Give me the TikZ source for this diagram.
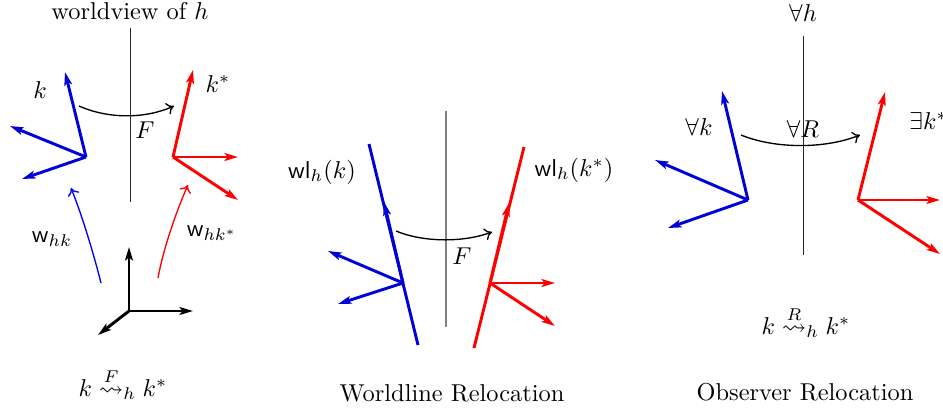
\documentclass[tikz,border=0pt]{standalone}
\usepackage{amsmath,amssymb}
\usetikzlibrary{arrows.meta}
\begin{document}
\begin{tikzpicture}[x=0.41pt,y=-0.41pt,>=to,
  frame/.style={line width=1.2pt,-{Stealth[length=5.5pt,width=3.2pt,inset=1.2pt]}},
  axisline/.style={line width=0.4pt,black!85},
  relarrow/.style={line width=0.55pt,-{To[length=3pt,width=5pt]}},
  lab/.style={inner sep=0pt}]
\useasboundingbox (0,0) rectangle (943,412);
% ---------- Panel 1 ----------
\node[lab] (t1) at (130,11) {worldview of $h$};
\coordinate (v1a) at (130,28);
\coordinate (v1b) at (130,202);
\draw[axisline] (v1a) -- (v1b);
\coordinate (bo1) at (86,157);
\coordinate (bu1) at (65,72);
\coordinate (bl1) at (10,126);
\coordinate (bd1) at (22,179);
\draw[frame,blue!85!black] (bo1) -- (bu1);
\draw[frame,blue!85!black] (bo1) -- (bl1);
\draw[frame,blue!85!black] (bo1) -- (bd1);
\node[lab] (k1) at (40,90) {$k$};
\coordinate (ro1) at (173,157);
\coordinate (ru1) at (193,70);
\coordinate (rr1) at (238,157);
\coordinate (rd1) at (238,200);
\draw[frame,red] (ro1) -- (ru1);
\draw[frame,red] (ro1) -- (rr1);
\draw[frame,red] (ro1) -- (rd1);
\node[lab] (ks1) at (218,84) {$k^*$};
\coordinate (fa1) at (79,106);
\coordinate (fb1) at (174,106);
\draw[relarrow] (fa1) .. controls (108,119) and (145,119) .. (fb1);
\node[lab] (F1) at (145,130) {$F$};
\coordinate (wa1) at (101,283);
\coordinate (wb1) at (71,188);
\draw[relarrow,blue] (wa1) .. controls (94,255) and (82,215) .. (wb1);
\node[lab] (wl1) at (52,239) {$\mathsf{w}_{hk}$};
\coordinate (wa2) at (158,278);
\coordinate (wb2) at (188,185);
\draw[relarrow,red] (wa2) .. controls (163,250) and (176,212) .. (wb2);
\node[lab] (wl2) at (212,233) {$\mathsf{w}_{hk^*}$};
\coordinate (ho1) at (129,311);
\coordinate (hu1) at (129,247);
\coordinate (hr1) at (193,311);
\coordinate (hd1) at (98,335);
\draw[frame,black] (ho1) -- (hu1);
\draw[frame,black] (ho1) -- (hr1);
\draw[frame,black] (ho1) -- (hd1);
\node[lab] (eq1) at (123,384) {$k \overset{F}{\rightsquigarrow}_h k^*$};
% ---------- Panel 2 ----------
\coordinate (v2a) at (446,111);
\coordinate (v2b) at (446,327);
\draw[line width=0.5pt,gray] (v2a) -- (v2b);
\coordinate (bo2) at (403,283);
\coordinate (btop2) at (369,144);
\coordinate (bmid2) at (384,202);
\coordinate (bbot2) at (418,345);
\coordinate (bl2) at (328,251);
\coordinate (bd2) at (338,304);
\draw[line width=1.2pt,blue!85!black] (btop2) -- (bbot2);
\draw[frame,blue!85!black] (bo2) -- (bmid2);
\draw[frame,blue!85!black] (bo2) -- (bl2);
\draw[frame,blue!85!black] (bo2) -- (bd2);
\node[lab] (wlk) at (322,172) {$\mathsf{wl}_h(k)$};
\coordinate (ro2) at (490,283);
\coordinate (rtop2) at (524,147);
\coordinate (rmid2) at (509,203);
\coordinate (rbot2) at (474,348);
\coordinate (rr2) at (555,283);
\coordinate (rd2) at (555,326);
\draw[line width=1.2pt,red] (rtop2) -- (rbot2);
\draw[frame,red] (ro2) -- (rmid2);
\draw[frame,red] (ro2) -- (rr2);
\draw[frame,red] (ro2) -- (rd2);
\node[lab] (wlks) at (574,170) {$\mathsf{wl}_h(k^*)$};
\coordinate (fa2) at (396,231);
\coordinate (fb2) at (492,232);
\draw[relarrow] (fa2) .. controls (422,242) and (462,243) .. (fb2);
\node[lab] (F2) at (462,256) {$F$};
\node[lab] (t2) at (452,393) {Worldline Relocation};
% ---------- Panel 3 ----------
\node[lab] (t3) at (803,13) {$\forall h$};
\coordinate (v3a) at (803,36);
\coordinate (v3b) at (803,255);
\draw[axisline] (v3a) -- (v3b);
\coordinate (bo3) at (748,200);
\coordinate (bu3) at (722,91);
\coordinate (bl3) at (655,160);
\coordinate (bd3) at (668,228);
\draw[frame,blue!85!black] (bo3) -- (bu3);
\draw[frame,blue!85!black] (bo3) -- (bl3);
\draw[frame,blue!85!black] (bo3) -- (bd3);
\node[lab] (k3) at (699,127) {$\forall k$};
\coordinate (ro3) at (858,200);
\coordinate (ru3) at (885,92);
\coordinate (rr3) at (940,200);
\coordinate (rd3) at (940,254);
\draw[frame,red] (ro3) -- (ru3);
\draw[frame,red] (ro3) -- (rr3);
\draw[frame,red] (ro3) -- (rd3);
\node[lab,anchor=west] (ks3) at (909,121) {$\exists k^*$};
\coordinate (fa3) at (741,135);
\coordinate (fb3) at (860,135);
\draw[relarrow] (fa3) .. controls (775,149) and (825,149) .. (fb3);
\node[lab] (R3) at (803,129) {$\forall R$};
\node[lab] (eq3) at (806,322) {$k \overset{R}{\rightsquigarrow}_h k^*$};
\node[lab] (t3b) at (805,392) {Observer Relocation};
\end{tikzpicture}
\end{document}
